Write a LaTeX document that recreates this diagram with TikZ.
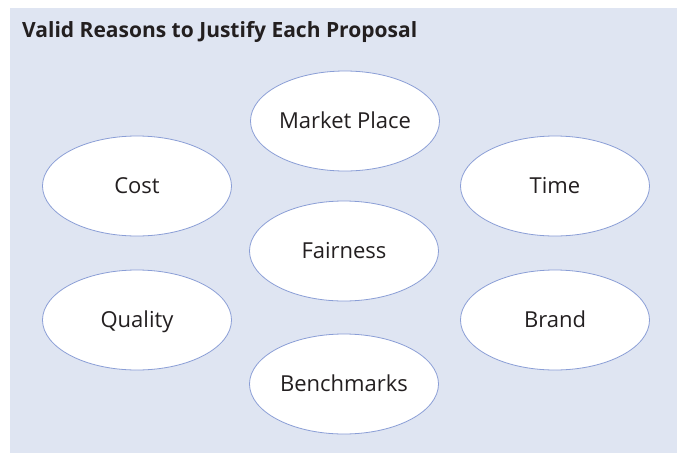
\documentclass[tikz,border=0pt]{standalone}
\usepackage{fontspec}
\setmainfont{Open Sans}
\usetikzlibrary{shapes.geometric}

\definecolor{panelbg}{HTML}{DFE5F2}
\definecolor{ringline}{HTML}{8A9ED6}
\definecolor{inkgrey}{HTML}{231F20}

\begin{document}
\begin{tikzpicture}[x=1pt,y=-1pt,
    reason/.style={ellipse,draw=ringline,line width=0.8pt,fill=white,
        minimum width=189pt,minimum height=100pt,inner sep=0pt,
        text height=17pt,text depth=2pt,
        font=\fontsize{22}{26}\selectfont,text=inkgrey}]
    % Page and panel
    \useasboundingbox (0,0) rectangle (677,453);
    \fill[panelbg] (10,8) rectangle (677,453);

    % Title
    \node[anchor=base west,inner sep=0pt,text=inkgrey,
        font=\fontsize{21}{24}\selectfont\bfseries] (title) at (22,37)
        {Valid Reasons to Justify Each Proposal};

    % Reasons
    \node[reason] (market) at (345,121) {Market Place};
    \node[reason] (cost) at (137,186) {Cost};
    \node[reason] (time) at (555,186) {Time};
    \node[reason] (fair) at (344,251) {Fairness};
    \node[reason] (quality) at (137,320) {Quality};
    \node[reason] (brand) at (555,320) {Brand};
    \node[reason] (bench) at (344,384) {Benchmarks};
\end{tikzpicture}
\end{document}
